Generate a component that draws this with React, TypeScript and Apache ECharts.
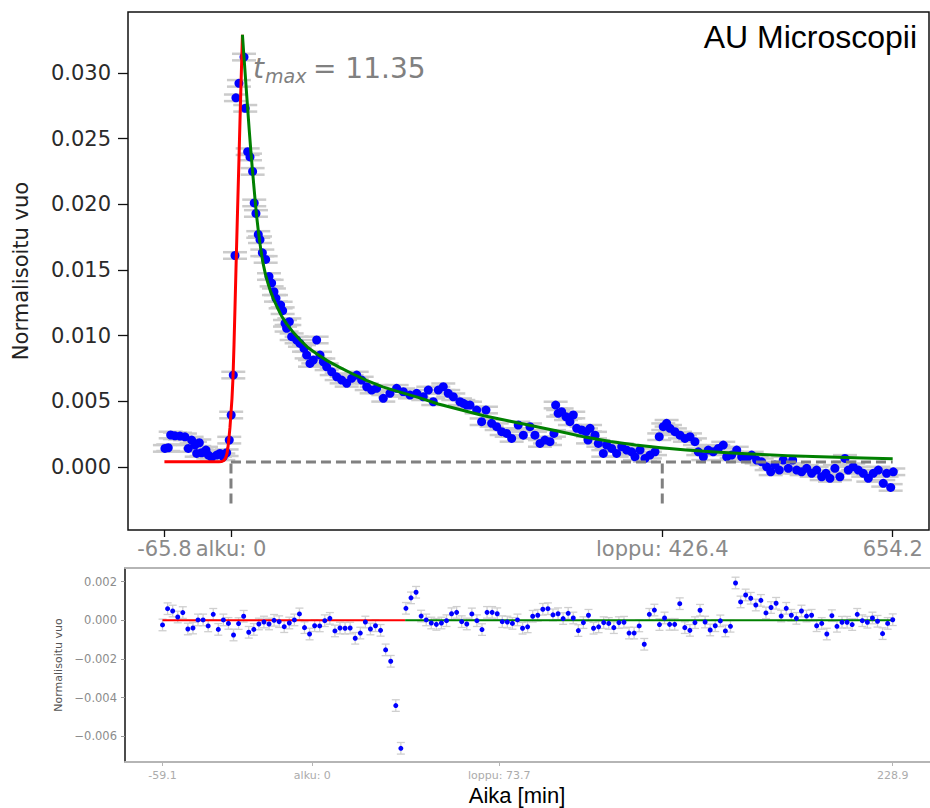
import React, { useEffect, useRef } from "react";
import * as echarts from "echarts";

// ---- Upper panel: normalised flux (time in minutes) ----
const fluxTime = [
  -65.3, -62.0, -59.6, -55.4, -50.4, -45.5, -42.2, -38.9, -35.6, -33.9, -31.3, -29.0, -24.7, -22.4, -19.1, -14.1, -10.9, -7.6, -4.3, -1.7,
  0.2, 2.3, 4.0, 4.9, 7.9, 12.9, 14.1, 16.5, 18.8, 21.4, 23.0, 24.7, 27.0, 28.7, 31.0, 34.3, 37.6, 40.2, 42.5, 44.5,
  49.1, 51.1, 53.4, 55.0, 57.7, 60.0, 64.9, 68.2, 72.2, 74.8, 78.1, 81.4, 84.7, 88.0, 91.3, 94.6, 99.6, 104.5, 109.4, 114.4,
  119.3, 124.3, 129.2, 134.2, 139.1, 144.0, 150.6, 157.2, 163.8, 170.4, 177.0, 183.6, 190.1, 195.1, 200.0, 205.0, 209.9, 214.8, 219.8, 226.4,
  229.7, 233.0, 236.3, 242.9, 247.8, 252.1, 257.7, 262.7, 267.6, 272.6, 277.5, 284.0, 289.0, 295.6, 300.5, 305.5, 310.4, 315.4, 319.3, 321.0,
  323.5, 326.9, 331.2, 335.1, 338.4, 341.8, 346.7, 351.0, 353.0, 355.0, 359.9, 363.2, 368.1, 371.4, 376.4, 381.3, 386.3, 391.2, 396.1, 399.4,
  404.4, 409.3, 414.2, 419.2, 423.4, 427.4, 430.7, 434.0, 438.9, 443.9, 448.8, 453.8, 458.7, 462.0, 467.0, 471.9, 476.8, 481.8, 486.7, 490.1,
  495.0, 500.0, 504.9, 509.8, 514.8, 519.7, 524.7, 529.6, 533.6, 537.8, 542.1, 546.0, 551.0, 555.3, 559.3, 564.2, 569.2, 574.1, 579.0, 584.0,
  588.2, 592.2, 597.1, 602.0, 607.0, 610.3, 615.2, 620.2, 625.1, 630.1, 635.0, 640.0, 644.9, 648.2, 652.2, 654.8,
];
const fluxValue = [
  0.00142, 0.00147, 0.00244, 0.00238, 0.00236, 0.0023, 0.00142, 0.00205, 0.00167, 0.00104, 0.00185, 0.00109, 0.00129, 0.00091, 0.00074, 0.00091, 0.00104, 0.00078, 0.00109, 0.00205,
  0.00396, 0.007, 0.0161, 0.0281, 0.0292, 0.0312, 0.0273, 0.024, 0.0236, 0.0225, 0.0201, 0.0193, 0.0177, 0.0173, 0.0163, 0.0158, 0.0145, 0.014, 0.01334, 0.01284,
  0.01233, 0.0119, 0.01094, 0.01056, 0.01106, 0.00992, 0.00967, 0.00941, 0.00903, 0.00852, 0.00789, 0.00814, 0.00967, 0.00852, 0.00801, 0.00763, 0.00725, 0.00687, 0.00662, 0.00637,
  0.00675, 0.007, 0.00662, 0.00611, 0.00586, 0.00599, 0.00523, 0.00561, 0.00599, 0.00573, 0.00548, 0.00561, 0.00535, 0.00586, 0.00497, 0.00586, 0.00611, 0.00561, 0.00535, 0.00497,
  0.00485, 0.00472, 0.00472, 0.00434, 0.00345, 0.00434, 0.00333, 0.00307, 0.00269, 0.00256, 0.00218, 0.0032, 0.00243, 0.00307, 0.00243, 0.0018, 0.00205, 0.00193, 0.00256, 0.00472,
  0.00409, 0.00421, 0.00383, 0.00345, 0.00396, 0.00295, 0.00282, 0.00269, 0.00205, 0.00295, 0.00243, 0.0018, 0.00104, 0.00167, 0.00142, 0.00104, 0.00155, 0.00129, 0.00116, 0.00078,
  0.00129, 0.00066, 0.00091, 0.00116, 0.00231, 0.00307, 0.00333, 0.00295, 0.00269, 0.00243, 0.00218, 0.00231, 0.00193, 0.00116, 0.00078, 0.00129, 0.00116, 0.00142, 0.00167, 0.00078,
  0.00091, 0.00129, 0.00078, 0.00066, 0.00091, 0.00053, 0.0004, 0.00002, -0.00036, 0.00015, -0.00023, 0.00053, -0.0001, 0.00053, -0.00023, -0.00036, -0.0001, -0.00048, -0.00023, -0.00074,
  -0.00048, -0.00086, -0.0001, -0.00074, 0.00066, -0.00023, 0.00002, -0.00023, -0.00048, -0.00086, -0.00048, -0.00023, -0.00124, -0.00048, -0.00155, -0.00036,
];
const fluxErr = 0.00025;

// rise fit (red) and decay fit (green)
const riseTime = [-65.8, -12, -9, -7, -5.5, -4, -3, -2, -1, 0, 1, 2, 3, 4, 5, 6.5, 8, 9.5, 11.35];
const riseFlux = [0.0004, 0.0004, 0.00042, 0.0005, 0.00065, 0.001, 0.0015, 0.0022, 0.003, 0.0041, 0.0052, 0.0068, 0.0093, 0.0122, 0.0152, 0.0195, 0.0237, 0.028, 0.0329];
const decayTime = [
  11.35, 12.5, 13.8, 15, 16.5, 18, 19.5, 21, 22.5, 24, 25.5, 27, 28.5, 30, 32, 34, 36.5, 39, 42, 45.5,
  50, 55, 61, 68, 76, 85, 95, 107, 120, 134, 150, 167, 185, 205, 225, 250, 275, 300, 325, 350,
  375, 400, 425, 450, 475, 500, 525, 550, 575, 600, 625, 654.2,
];
const decayFlux = [
  0.0329, 0.0316, 0.0302, 0.0289, 0.0273, 0.0257, 0.0242, 0.0228, 0.0215, 0.0202, 0.019, 0.018, 0.0171, 0.0163, 0.0154, 0.0147, 0.014, 0.0134, 0.0128, 0.0122,
  0.0115, 0.0109, 0.0103, 0.0097, 0.0091, 0.0086, 0.0081, 0.0076, 0.0071, 0.0066, 0.0061, 0.0057, 0.0053, 0.0048, 0.0044, 0.0039, 0.0035, 0.0031, 0.0027, 0.00228,
  0.00194, 0.00168, 0.00147, 0.0013, 0.00116, 0.00105, 0.00095, 0.00087, 0.0008, 0.00074, 0.00069, 0.00064,
];
const baselineLevel = 0.00038;
const startTime = 0;
const endTime = 426.4;
const lastTime = 654.2;
const markerBottom = -0.0031;

const topTickValues = [-65.8, 0, 426.4, 654.2];
const topTickLabels = ["-65.8", "alku: 0", "loppu: 426.4", "654.2"];
const topYTicks = [0, 0.005, 0.01, 0.015, 0.02, 0.025, 0.03];

// ---- Lower panel: residuals ----
const residTime = [
  -59.1, -57.1, -55.1, -53.1, -51.1, -49.1, -47.1, -45.1, -43.1, -41.1, -39.1, -37.1, -35.1, -33.1, -31.1, -29.1, -27.1, -25.1, -23.1, -21.1,
  -19.1, -17.1, -15.1, -13.1, -11.1, -9.1, -7.1, -5.1, -3.1, -1.1, 0.9, 2.9, 4.9, 6.9, 8.9, 10.9, 12.9, 14.9, 16.9, 18.9,
  20.9, 22.9, 24.9, 26.9, 28.9, 30.9, 32.9, 34.9, 36.9, 38.9, 40.9, 42.9, 44.9, 46.9, 48.9, 50.9, 52.9, 54.9, 56.9, 58.9,
  60.9, 62.9, 64.9, 66.9, 68.9, 70.9, 72.9, 74.9, 76.9, 78.9, 80.9, 82.9, 84.9, 86.9, 88.9, 90.9, 92.9, 94.9, 96.9, 98.9,
  100.9, 102.9, 104.9, 106.9, 108.9, 110.9, 112.9, 114.9, 116.9, 118.9, 120.9, 122.9, 124.9, 126.9, 128.9, 130.9, 132.9, 134.9, 136.9, 138.9,
  140.9, 142.9, 144.9, 146.9, 148.9, 150.9, 152.9, 154.9, 156.9, 158.9, 160.9, 162.9, 164.9, 166.9, 168.9, 170.9, 172.9, 174.9, 176.9, 178.9,
  180.9, 182.9, 184.9, 186.9, 188.9, 190.9, 192.9, 194.9, 196.9, 198.9, 200.9, 202.9, 204.9, 206.9, 208.9, 210.9, 212.9, 214.9, 216.9, 218.9,
  220.9, 222.9, 224.9, 226.9, 228.9,
];
const residValue = [
  -0.00024, 0.0006, 0.00048, 0.00017, 0.0004, -0.00045, -0.0004, 0.00002, 0.00002, -0.00029, 0.00031, -0.00047, 0.00002, -0.00016, -0.00076, -0.00017, 0.00021, -0.00062, -0.00047, -0.00019,
  -0.00009, -0.00019, 0.0, -0.00007, -0.00033, -0.00014, 0.00002, 0.00033, -0.00038, -0.00071, -0.00028, -0.00029, -0.00002, 0.0001, -0.00055, -0.0004, -0.00041, -0.0004, -0.00093, -0.00066,
  -0.00009, -0.00045, -0.00028, -0.00052, -0.00153, -0.00212, -0.00441, -0.00662, 0.00062, 0.00116, 0.00145, 0.00022, 0.00002, -0.00014, -0.00021, -0.00014, -0.00002, 0.00034, 0.00041, -0.00007,
  -0.00019, 0.00033, -0.00002, -0.00048, 0.00041, 0.00041, 0.00034, -0.00007, -0.00009, -0.00016, 0.00002, -0.00041, -0.00034, 0.00021, 0.00026, 0.00057, 0.0006, 0.00028, 0.00034, 0.00009,
  0.00036, 0.00012, -0.00053, -0.00012, 0.00026, -0.00041, -0.00034, -0.00012, -0.00016, -0.00038, -0.00012, -0.0001, -0.00066, -0.00066, -0.00029, -0.00124, 0.00031, 0.00053, -0.00022, 0.00012,
  -0.00021, -0.00021, 0.00086, -0.00038, -0.00052, -0.00012, 0.00052, -0.00009, -0.0005, -0.00028, -0.00003, -0.00055, -0.00031, 0.00193, 0.00095, 0.00131, 0.00114, 0.00079, 0.00103, 0.00038,
  0.00066, 0.00088, 0.00022, 0.00062, 0.00026, 0.0001, 0.00048, 0.00022, 0.00026, -0.00028, -0.00016, -0.00071, 0.00024, -0.00031, -0.0001, -0.0001, -0.00022, 0.00031, -0.00002, -0.0001,
  0.00012, -0.00005, -0.00069, -0.00016, 0.00003,
];
const residErr = 0.0003;
const residSplit = 36.6;
const residStart = -59.1;
const residEnd = 228.9;
const bottomTickValues = [-59.1, 0, 73.7, 228.9];
const bottomTickLabels = ["-59.1", "alku: 0", "loppu: 73.7", "228.9"];
const bottomYTicks = [-0.006, -0.004, -0.002, 0, 0.002];

const zip = (a: number[], b: number[]) => a.map((x, i) => [x, b[i]]);

function pickLabel(values: number[], labels: string[], v: number) {
  let best = 0;
  values.forEach((x, i) => {
    if (Math.abs(x - v) < Math.abs(values[best] - v)) best = i;
  });
  return labels[best];
}

export default function App() {
  const ref = useRef<HTMLDivElement>(null);
  useEffect(() => {
    if (!ref.current) return;
    const chart = echarts.init(ref.current, undefined, { renderer: "svg" });
    const flux = zip(fluxTime, fluxValue);
    const resid = zip(residTime, residValue);
    const capStyle = { stroke: "#cbcbcb", lineWidth: 2.5 };
    const resCap = { stroke: "#cfcfcf", lineWidth: 1.3 };
    const dashed = { color: "#808080", width: 3, type: [10, 5] as any };

    chart.setOption({
      animation: false,
      textStyle: { fontFamily: "DejaVu Sans" },
      grid: [
        { left: 128, top: 12, width: 801, height: 518, show: true, borderColor: "#111", borderWidth: 1.5, backgroundColor: "transparent" },
        { left: 125, top: 568, width: 805, height: 194 },
      ],
      xAxis: [
        {
          gridIndex: 0, type: "value", min: -101.8, max: 690.1,
          axisLine: { show: false, onZero: false }, splitLine: { show: false },
          axisTick: { show: true, customValues: topTickValues, length: 7, lineStyle: { color: "#111", width: 1.3 } },
          axisLabel: {
            customValues: topTickValues, margin: 8, fontSize: 21, color: "#8a8a8a", fontFamily: "DejaVu Sans",
            formatter: (v: number) => pickLabel(topTickValues, topTickLabels, v),
          },
        },
        {
          gridIndex: 1, type: "value", min: -73.9, max: 243.6,
          axisLine: { show: true, onZero: false, lineStyle: { color: "#b5b5b5", width: 2 } }, splitLine: { show: false },
          axisTick: { show: true, customValues: bottomTickValues, length: 4, lineStyle: { color: "#b5b5b5" } },
          axisLabel: {
            customValues: bottomTickValues, margin: 8, fontSize: 11, color: "#ababab", fontFamily: "DejaVu Sans",
            formatter: (v: number) => pickLabel(bottomTickValues, bottomTickLabels, v),
          },
        },
        {
          gridIndex: 1, type: "value", min: -73.9, max: 243.6, position: "top",
          axisLine: { show: true, onZero: false, lineStyle: { color: "#b5b5b5", width: 2 } },
          axisTick: { show: false }, axisLabel: { show: false }, splitLine: { show: false },
        },
      ],
      yAxis: [
        {
          gridIndex: 0, type: "value", min: -0.00479, max: 0.03463,
          axisLine: { show: false, onZero: false }, splitLine: { show: false },
          axisTick: { show: true, customValues: topYTicks, length: 10, lineStyle: { color: "#111", width: 1.3 } },
          axisLabel: { customValues: topYTicks, margin: 17, fontSize: 21, color: "#2a2a2a", fontFamily: "DejaVu Sans", formatter: (v: number) => v.toFixed(3) },
          name: "Normalisoitu vuo", nameLocation: "middle", nameGap: 97,
          nameTextStyle: { fontSize: 21, color: "#222", fontFamily: "DejaVu Sans" },
        },
        {
          gridIndex: 1, type: "value", min: -0.007329, max: 0.002705,
          axisLine: { show: true, onZero: false, lineStyle: { color: "#111", width: 1.5 } }, splitLine: { show: false },
          axisTick: { show: true, customValues: bottomYTicks, length: 4, lineStyle: { color: "#999" } },
          axisLabel: {
            customValues: bottomYTicks, margin: 8, fontSize: 11.5, color: "#8c8c8c", fontFamily: "DejaVu Sans",
            formatter: (v: number) => (v < 0 ? "\u2212" : "") + Math.abs(v).toFixed(3),
          },
          name: "Normalisoitu vuo", nameLocation: "middle", nameGap: 57,
          nameTextStyle: { fontSize: 11, color: "#555", fontFamily: "DejaVu Sans" },
        },
      ],
      series: [
        {
          type: "custom", xAxisIndex: 0, yAxisIndex: 0, data: flux, encode: { x: 0, y: 1 }, z: 1,
          renderItem: (_p: any, api: any) => {
            const t = api.value(0), v = api.value(1);
            const a = api.coord([t, v + fluxErr]);
            const b = api.coord([t, v - fluxErr]);
            return {
              type: "group",
              children: [
                { type: "line", shape: { x1: a[0] - 12, y1: a[1], x2: a[0] + 12, y2: a[1] }, style: capStyle },
                { type: "line", shape: { x1: b[0] - 12, y1: b[1], x2: b[0] + 12, y2: b[1] }, style: capStyle },
                { type: "line", shape: { x1: a[0], y1: a[1], x2: b[0], y2: b[1] }, style: capStyle },
              ],
            };
          },
        },
        { type: "scatter", xAxisIndex: 0, yAxisIndex: 0, data: flux, symbolSize: 9, itemStyle: { color: "#0000ff", opacity: 1 }, z: 2 },
        {
          type: "line", xAxisIndex: 0, yAxisIndex: 0, data: [[startTime, baselineLevel], [lastTime, baselineLevel]],
          showSymbol: false, lineStyle: dashed, z: 3,
        },
        {
          type: "line", xAxisIndex: 0, yAxisIndex: 0, data: [[startTime, baselineLevel - 0.0001], [startTime, markerBottom]],
          showSymbol: false, lineStyle: dashed, z: 3,
        },
        {
          type: "line", xAxisIndex: 0, yAxisIndex: 0, data: [[endTime, baselineLevel - 0.0001], [endTime, markerBottom]],
          showSymbol: false, lineStyle: dashed, z: 3,
        },
        {
          type: "line", xAxisIndex: 0, yAxisIndex: 0, data: zip(riseTime, riseFlux), showSymbol: false,
          smooth: false, lineStyle: { color: "#ff0000", width: 3, join: "round" }, z: 4,
        },
        {
          type: "line", xAxisIndex: 0, yAxisIndex: 0, data: zip(decayTime, decayFlux), showSymbol: false,
          smooth: false, lineStyle: { color: "#008000", width: 3, join: "round" }, z: 4,
        },
        {
          type: "custom", xAxisIndex: 1, yAxisIndex: 1, data: resid, encode: { x: 0, y: 1 }, z: 1,
          renderItem: (_p: any, api: any) => {
            const t = api.value(0), v = api.value(1);
            const a = api.coord([t, v + residErr]);
            const b = api.coord([t, v - residErr]);
            return {
              type: "group",
              children: [
                { type: "line", shape: { x1: a[0] - 4, y1: a[1], x2: a[0] + 4, y2: a[1] }, style: resCap },
                { type: "line", shape: { x1: b[0] - 4, y1: b[1], x2: b[0] + 4, y2: b[1] }, style: resCap },
                { type: "line", shape: { x1: a[0], y1: a[1], x2: b[0], y2: b[1] }, style: resCap },
              ],
            };
          },
        },
        {
          type: "line", xAxisIndex: 1, yAxisIndex: 1, data: [[residStart, 0], [residSplit, 0]], showSymbol: false,
          lineStyle: { color: "#ff0000", width: 2 }, z: 2,
        },
        {
          type: "line", xAxisIndex: 1, yAxisIndex: 1, data: [[residSplit, 0], [residEnd, 0]], showSymbol: false,
          lineStyle: { color: "#008000", width: 2 }, z: 2,
        },
        { type: "scatter", xAxisIndex: 1, yAxisIndex: 1, data: resid, symbolSize: 5, itemStyle: { color: "#0000ff", opacity: 1 }, z: 3 },
      ],
      graphic: [
        { type: "text", x: 917, y: 37, style: { text: "AU Microscopii", align: "right", verticalAlign: "middle", fontSize: 32, fontFamily: "Liberation Sans", fill: "#000" } },
        { type: "text", x: 253, y: 68, style: { text: "t", verticalAlign: "middle", fontSize: 28, fontStyle: "italic", fontFamily: "DejaVu Sans", fill: "#808080" } },
        { type: "text", x: 265, y: 76, style: { text: "max", verticalAlign: "middle", fontSize: 19, fontStyle: "italic", fontFamily: "DejaVu Sans", fill: "#808080" } },
        { type: "text", x: 313, y: 68, style: { text: "= 11.35", verticalAlign: "middle", fontSize: 28, fontFamily: "DejaVu Sans", fill: "#808080" } },
        { type: "text", x: 517, y: 795, style: { text: "Aika [min]", align: "center", verticalAlign: "middle", fontSize: 22, fontFamily: "Liberation Sans", fill: "#000" } },
      ],
    });
    return () => chart.dispose();
  }, []);
  return <div ref={ref} style={{ position: "fixed", left: 0, top: 0, width: 930, height: 808, background: "#fff" }} />;
}
